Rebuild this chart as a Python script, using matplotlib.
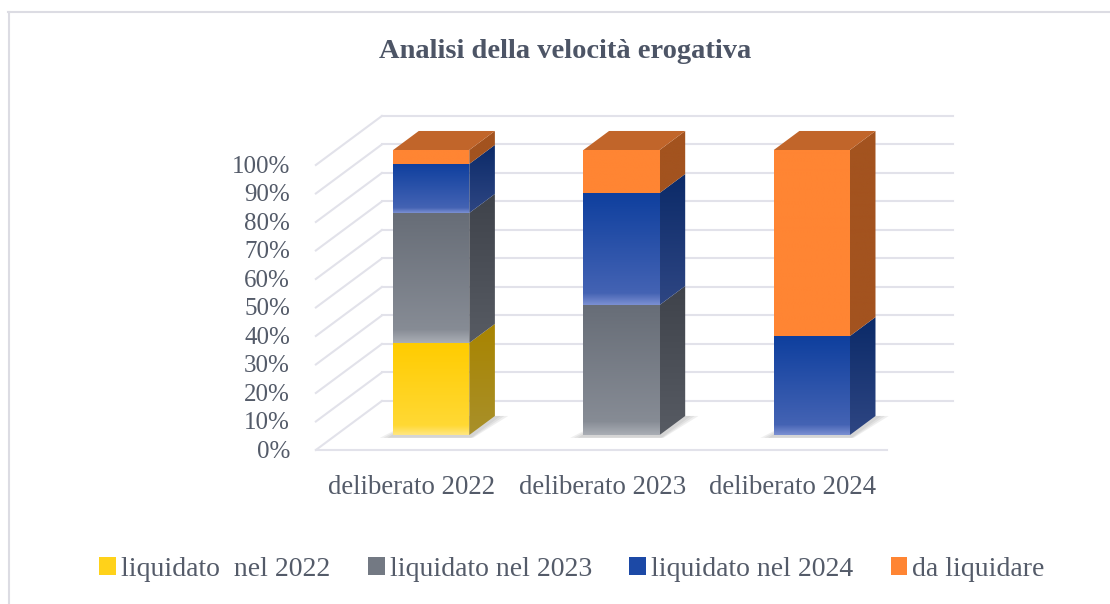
import numpy as np
import matplotlib
matplotlib.use('Agg')
import matplotlib.pyplot as plt
from matplotlib.patches import Polygon, Rectangle
from matplotlib.lines import Line2D
from matplotlib.colors import to_rgb

# dati (percentuali per ogni anno di delibera)
categorie = ['deliberato 2022', 'deliberato 2023', 'deliberato 2024']
serie = ['liquidato  nel 2022', 'liquidato nel 2023', 'liquidato nel 2024', 'da liquidare']
liquidato_2022 = [32.3, 0.0, 0.0]
liquidato_2023 = [45.6, 45.6, 0.0]
liquidato_2024 = [17.2, 39.3, 34.7]
da_liquidare = [4.9, 15.1, 65.3]
valori = [liquidato_2022, liquidato_2023, liquidato_2024, da_liquidare]
tick_perc = list(range(0, 101, 10))

# colori: fronte (alto, basso, banda chiara), fianco (alto, basso), cima
col_fronte = [('#FFCC00', '#FFDA3A', '#FFE680'),
              ('#676D77', '#8A8F98', '#A9ADB4'),
              ('#0E3F9E', '#4A67B6', '#7A8FD2'),
              ('#FF8533', '#FF8533', None)]
col_fianco = [('#A88400', '#A9902A'),
              ('#3F434B', '#575B63'),
              ('#0B2A68', '#2E4683'),
              ('#A3531F', '#A3531F')]
col_cima = ['#C9A300', '#5A5F68', '#14357F', '#C1652A']
col_legenda = ['#FFD21A', '#737983', '#1C49A6', '#FF8533']

testo = '#545B69'
griglia = '#E2E2EA'

# prospettiva obliqua: spostamento per profondità unitaria
DX, DY = 0.347, 17.2
Z1, Z2 = 0.306, 0.694
LARG = 0.4

plt.rcParams['font.family'] = ['Liberation Serif', 'DejaVu Serif']

fig = plt.figure(figsize=(11.1, 6.04), dpi=100)
ax = fig.add_axes([0, 0, 1, 1])
ax.set_xlim(-411 / 190.3, (1110 - 411) / 190.3)
ax.set_ylim(-154 / 2.85, 450 / 2.85)
ax.set_autoscale_on(False)
ax.axis('off')


def p(x, y, z):
    return (x + z * DX, y + z * DY)


def faccia_sfumata(verts, alto, basso, banda=None, zorder=3):
    verts = np.array(verts)
    n = 120
    t = np.linspace(0, 1, n)[:, None]
    c = (1 - t) * np.array(to_rgb(alto)) + t * np.array(to_rgb(basso))
    if banda is not None:
        k = int(n * 0.9)
        tb = np.linspace(0, 1, n - k)[:, None]
        c[k:] = (1 - tb) * np.array(to_rgb(basso)) + tb * np.array(to_rgb(banda))
    img = c[:, None, :]
    poly = Polygon(verts, closed=True, facecolor='none', edgecolor='none',
                   transform=ax.transData)
    ax.add_patch(poly)
    im = ax.imshow(img, extent=[verts[:, 0].min(), verts[:, 0].max(),
                                verts[:, 1].min(), verts[:, 1].max()],
                   aspect='auto', interpolation='bilinear', zorder=zorder)
    im.set_clip_path(poly)


# griglia: parete di fondo, parete sinistra e bordo del pavimento
x_sx, x_dx = -0.5, len(categorie) - 0.5
for v in tick_perc:
    a, b = p(x_sx, v, 1), p(x_dx, v, 1)
    ax.plot([a[0], b[0]], [a[1], b[1]], color=griglia, lw=1.5, zorder=1)
    a, b = p(x_sx, v, 0), p(x_sx, v, 1)
    ax.plot([a[0], b[0]], [a[1], b[1]], color=griglia, lw=1.5, zorder=1)
a, b = p(x_sx, 0, 0), p(x_dx, 0, 0)
ax.plot([a[0], b[0]], [a[1], b[1]], color=griglia, lw=1.5, zorder=1)

# colonne impilate
for i in range(len(categorie)):
    x0, x1 = i - LARG / 2, i + LARG / 2
    # ombra sotto la colonna
    for k, e in enumerate([0.07, 0.05, 0.03]):
        ombra = [p(x0 - e, -1.0, Z1), p(x1 + e * 0.3, -1.0, Z1),
                 p(x1 + e, 0, Z2), p(x0 + e * 0.3, 0, Z2)]
        ax.add_patch(Polygon(ombra, closed=True, facecolor='#808080',
                             edgecolor='none', alpha=0.12, zorder=2))
    base = 0.0
    segmenti = [(s, valori[s][i]) for s in range(len(serie)) if valori[s][i] > 0]
    for j, (s, v) in enumerate(segmenti):
        y0, y1 = base, base + v
        fronte = [p(x0, y0, Z1), p(x1, y0, Z1), p(x1, y1, Z1), p(x0, y1, Z1)]
        faccia_sfumata(fronte, *col_fronte[s])
        fianco = [p(x1, y0, Z1), p(x1, y0, Z2), p(x1, y1, Z2), p(x1, y1, Z1)]
        faccia_sfumata(fianco, *col_fianco[s])
        if j == len(segmenti) - 1:
            cima = [p(x0, y1, Z1), p(x1, y1, Z1), p(x1, y1, Z2), p(x0, y1, Z2)]
            ax.add_patch(Polygon(cima, closed=True, facecolor=col_cima[s],
                                 edgecolor='none', zorder=3))
        base = y1

# etichette asse verticale
for v in tick_perc:
    ax.text(-0.636, v - 0.6, f'{v}%', ha='right', va='center',
            fontsize=18, color=testo)

# etichette categorie
for i, c in enumerate(categorie):
    ax.text(i + 0.005, -13.0, c, ha='center', va='center', fontsize=19.3, color=testo)

fig.text(565 / 1110, 1 - 51 / 604, 'Analisi della velocità erogativa',
         ha='center', va='center', fontsize=20.5, fontweight='bold', color='#4D5566')

# legenda
maniglie = [Rectangle((0, 0), 1, 1, facecolor=c, edgecolor='none') for c in col_legenda]
leg = ax.legend(maniglie, serie, loc='center', bbox_to_anchor=(572 / 1110, 1 - 569 / 604),
                bbox_transform=fig.transFigure, ncol=4, frameon=False,
                fontsize=20, handlelength=0.6, handleheight=0.6,
                handletextpad=0.18, columnspacing=1.35)
for t in leg.get_texts():
    t.set_color(testo)

# cornice
fig.add_artist(Line2D([8 / 1110, 1], [1 - 12 / 604] * 2, color='#DCDCE3', lw=1.5,
                      transform=fig.transFigure))
fig.add_artist(Line2D([8.5 / 1110] * 2, [0, 1 - 12 / 604], color='#DCDCE3', lw=1.5,
                      transform=fig.transFigure))

fig.savefig('out.png', dpi=100)
